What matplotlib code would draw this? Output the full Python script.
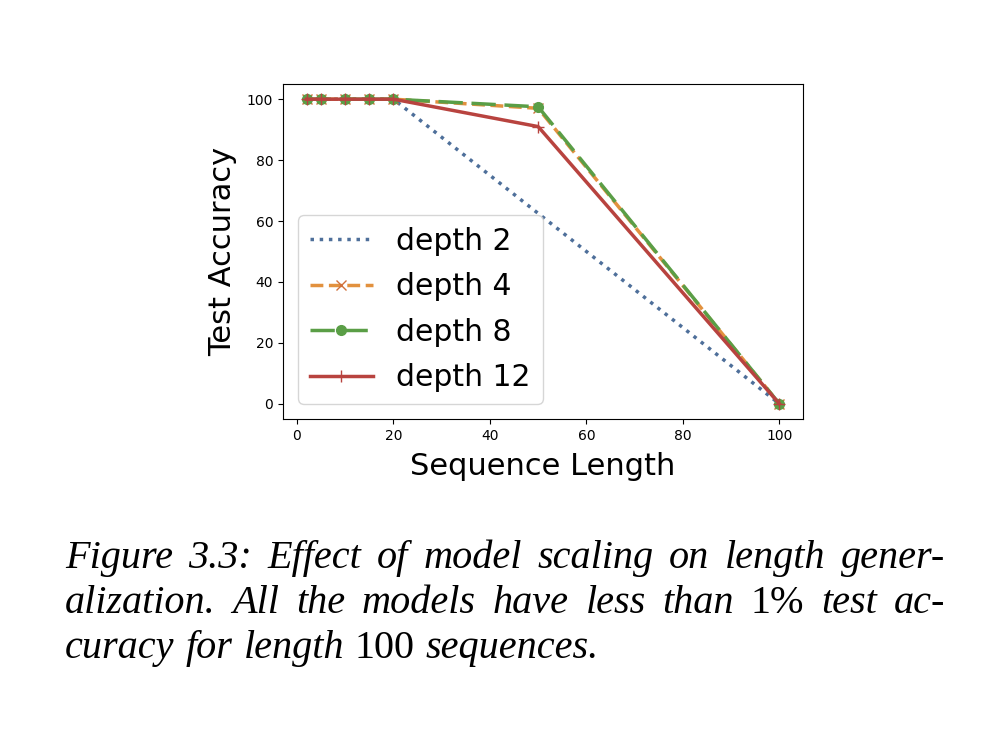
import matplotlib.pyplot as plt
import numpy as np

seq_len = [2, 5, 10, 15, 20, 50, 100]
acc_depth2 = [100, 100, 100, 100, 100, 62.5, 0]
acc_depth4 = [100, 100, 100, 100, 100, 97, 0]
acc_depth8 = [100, 100, 100, 100, 100, 97.5, 0]
acc_depth12 = [100, 100, 100, 100, 100, 91, 0]

# caption words, upright ones marked with a leading '|'
caption = [["Figure", "3.3:", "Effect", "of", "model", "scaling", "on", "length", "gener-"],
           ["alization.", "All", "the", "models", "have", "less", "than", "|1%", "test", "ac-"],
           ["curacy", "for", "length", "|100", "sequences."]]

fig = plt.figure(figsize=(10, 7.3), dpi=100)
ax = fig.add_axes([0.283, 0.426, 0.52, 0.459])

ax.plot(seq_len, acc_depth2, ':', color='#4e6f9a', lw=2.5, label='depth 2')
ax.plot(seq_len, acc_depth4, '--', color='#e2913e', lw=2.5, marker='x', ms=7,
        mec='#d0703a', label='depth 4')
ax.plot(seq_len, acc_depth8, '--', color='#5a9e46', lw=2.5, marker='o', ms=7,
        dashes=(7, 2.5), label='depth 8')
ax.plot(seq_len, acc_depth12, '-', color='#b8433f', lw=2.5, marker='+', ms=8,
        label='depth 12')

ax.set_xticks([0, 20, 40, 60, 80, 100])
ax.set_yticks([0, 20, 40, 60, 80, 100])
ax.tick_params(labelsize=10)
ax.set_xlabel('Sequence Length', fontsize=22, labelpad=7)
ax.set_ylabel('Test Accuracy', fontsize=22, labelpad=7)
ax.legend(loc='lower left', fontsize=21.5, handlelength=2.1, labelspacing=0.55)

# justified caption
x_left, x_right = 65, 945
baselines = [0.222, 0.160, 0.099]
renderer = fig.canvas.get_renderer()
for i, words in enumerate(caption):
    texts = []
    for w in words:
        style = 'normal' if w.startswith('|') else 'italic'
        t = fig.text(0, baselines[i], w.lstrip('|'), fontsize=29, style=style,
                     family='Liberation Serif', va='baseline')
        texts.append(t)
    widths = [t.get_window_extent(renderer).width for t in texts]
    if i < len(caption) - 1:
        gap = (x_right - x_left - sum(widths)) / (len(texts) - 1)
    else:
        gap = 11
    x = x_left
    for t, w in zip(texts, widths):
        t.set_x(x / 1000)
        x += w + gap

fig.savefig('out.png')
